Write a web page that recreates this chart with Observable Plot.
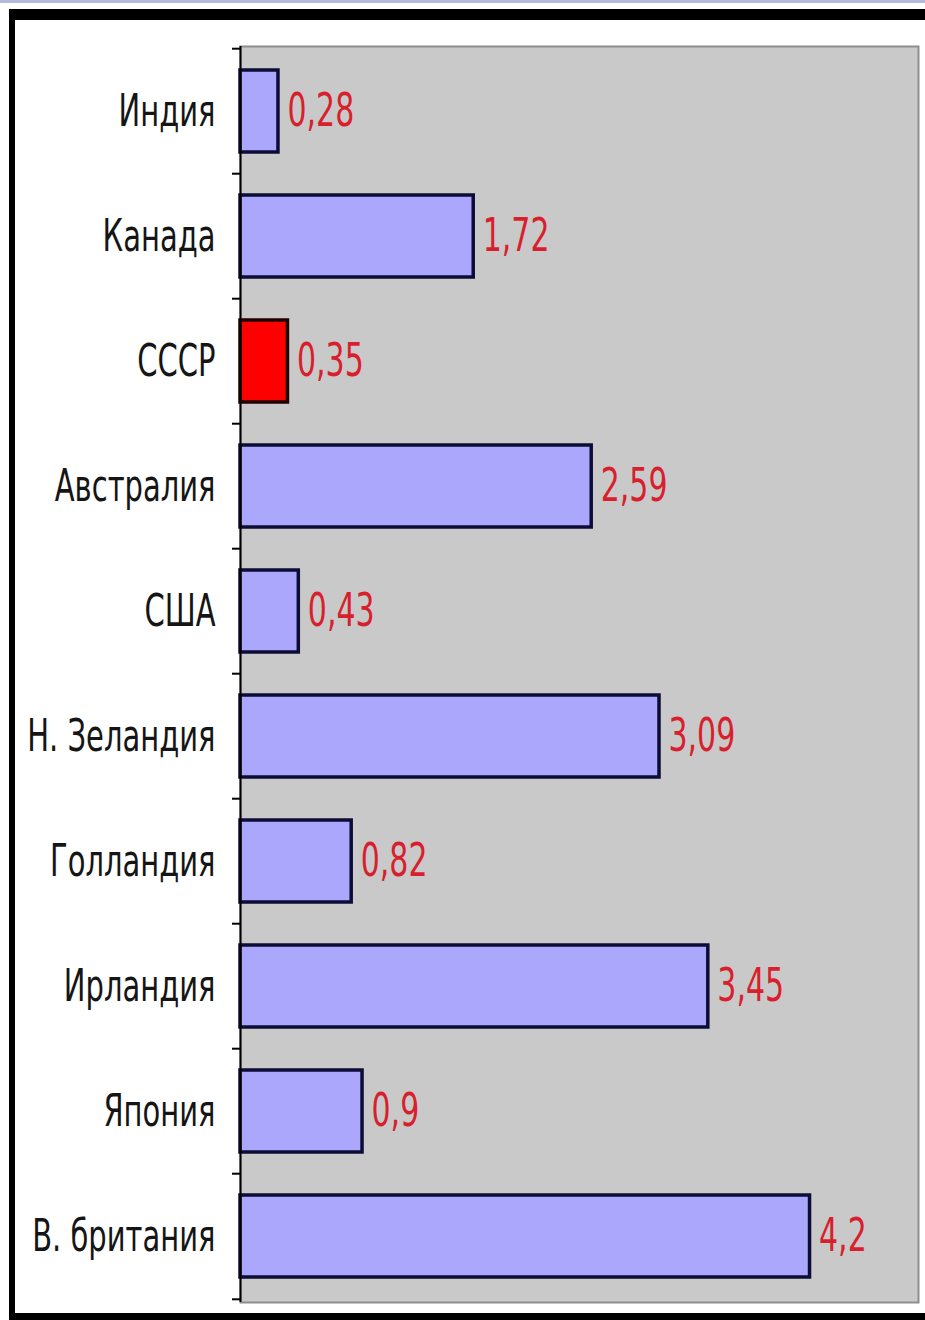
<!DOCTYPE html>
<html>
<head>
<meta charset="utf-8">
<script src="https://cdn.jsdelivr.net/npm/d3@7"></script>
<script src="https://cdn.jsdelivr.net/npm/@observablehq/plot@0.6"></script>
<style>
  html, body { margin: 0; padding: 0; background: #ffffff; }
  #wrap { position: relative; width: 925px; height: 1320px; overflow: hidden; }
  .deco { position: absolute; }
</style>
</head>
<body>
<div id="wrap">
  <div id="chart"></div>
  <div class="deco" style="left:0;top:0;width:925px;height:3px;background:#b4badb;"></div>
  <div class="deco" style="left:9px;top:9px;width:916px;height:11px;background:#000;"></div>
  <div class="deco" style="left:9px;top:9px;width:6px;height:1311px;background:#000;"></div>
  <div class="deco" style="left:9px;top:1313px;width:916px;height:7px;background:#000;"></div>
</div>
<script>
const countries = ["Индия", "Канада", "СССР", "Австралия", "США", "Н. Зеландия", "Голландия", "Ирландия", "Япония", "В. британия"];
const values = [0.28, 1.72, 0.35, 2.59, 0.43, 3.09, 0.82, 3.45, 0.9, 4.2];
const valueLabels = ["0,28", "1,72", "0,35", "2,59", "0,43", "3,09", "0,82", "3,45", "0,9", "4,2"];
const highlighted = "СССР";

const data = countries.map((c, i) => ({country: c, value: values[i], label: valueLabels[i]}));

const W = 925, H = 1320;
const mL = 240, mT = 46, mR = 7, mB = 18;
const step = (H - mT - mB) / countries.length;
const font = "'DejaVu Sans', sans-serif";
const stretchY = 1.55;

const chart = Plot.plot({
  width: W,
  height: H,
  marginLeft: mL,
  marginTop: mT,
  marginRight: mR,
  marginBottom: mB,
  style: {background: "transparent", fontFamily: font},
  x: {domain: [0, 5], axis: null},
  y: {domain: countries, paddingInner: 0.34, paddingOuter: 0.17, axis: null, label: null},
  marks: [
    Plot.frame({fill: "#c9c9c9", stroke: "#8e8e8e", strokeWidth: 2}),
    Plot.barX(data, {filter: d => d.country !== highlighted, x: "value", y: "country", fill: "#aba7fd", stroke: "#0c0c36", strokeWidth: 3.5}),
    Plot.barX(data, {filter: d => d.country === highlighted, x: "value", y: "country", fill: "#ff0000", stroke: "#200000", strokeWidth: 3.5}),
    Plot.text(data, {x: "value", y: "country", text: "label", textAnchor: "start", dx: 9, fill: "#d81f2d", fontSize: 30, fontFamily: font}),
    Plot.ruleX([0], {stroke: "#000", strokeWidth: 2}),
    Plot.axisY({tickSize: 0, tickPadding: 25, fontSize: 29, fill: "#151515", fontFamily: font, label: null}),
    Plot.axisY({text: null, tickSize: 8, stroke: "#000", strokeWidth: 2, dy: -step / 2, label: null}),
    Plot.axisY(countries.slice(-1), {text: null, tickSize: 8, stroke: "#000", strokeWidth: 2, dy: step / 2, label: null})
  ]
});

// the original chart's lettering is tall and narrow: stretch each text vertically about its anchor
d3.select(chart).selectAll("text").each(function () {
  const t = this.getAttribute("transform");
  if (t) {
    this.setAttribute("transform", t + ` scale(1,${stretchY})`);
  } else {
    const x = +this.getAttribute("x") || 0, y = +this.getAttribute("y") || 0;
    this.setAttribute("transform", `translate(${x},${y}) scale(1,${stretchY}) translate(${-x},${-y})`);
  }
});

document.getElementById("chart").appendChild(chart);
</script>
</body>
</html>
